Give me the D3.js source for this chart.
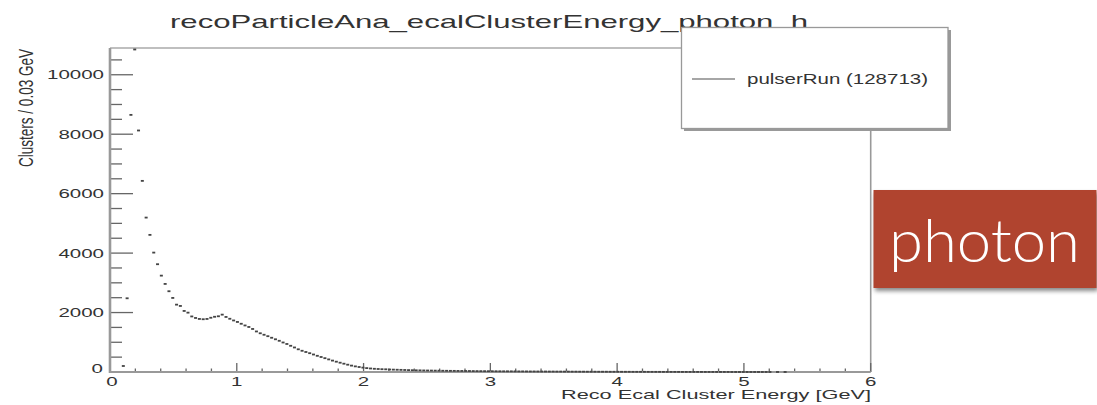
<!DOCTYPE html>
<html>
<head>
<meta charset="utf-8">
<script src="https://cdn.jsdelivr.net/npm/d3@7"></script>
<style>
  body { margin: 0; background: #fff; }
  svg { display: block; }
  text { font-family: "Liberation Sans", Arial, sans-serif; fill: #333; }
</style>
</head>
<body>
<script>
var W = 1097, H = 405;

// histogram, 200 bins of 0.03 GeV from 0 to 6 GeV (counts)
var binWidth = 0.03;
var counts = [
  0, 0, 0, 202, 2480, 8650, 10850, 8125, 6430, 5195,
  4613, 4017, 3626, 3242, 2963, 2717, 2492, 2266, 2222, 2054,
  1997, 1869, 1818, 1785, 1775, 1785, 1825, 1858, 1875, 1930,
  1852, 1791, 1734, 1684, 1623, 1566, 1515, 1448, 1364, 1303,
  1253, 1205, 1152, 1101, 1050, 993, 943, 882, 825, 764,
  714, 673, 633, 589, 545, 505, 465, 424, 384, 347,
  313, 279, 246, 215, 189, 168, 148, 131, 118, 108,
  101, 94, 91, 84, 80, 76, 72, 68, 64, 60,
  57, 55, 52, 50, 48, 46, 44, 42, 41, 39,
  38, 36, 35, 34, 33, 31, 30, 29, 28, 27,
  26, 25, 24, 23, 23, 22, 21, 20, 20, 19,
  18, 18, 17, 16, 16, 15, 15, 14, 14, 13,
  13, 12, 12, 11, 11, 10, 10, 10, 9, 9,
  9, 8, 8, 8, 7, 7, 7, 6, 6, 6,
  6, 5, 5, 5, 5, 4, 4, 4, 4, 4,
  3, 3, 3, 3, 3, 3, 2, 2, 2, 2,
  2, 2, 2, 1, 1, 1, 1, 1, 1, 1,
  1, 1, 1, 1, 0, 1, 0, 1, 0, 0,
  0, 0, 0, 0, 0, 0, 0, 0, 0, 0,
  0, 0, 0, 0, 0, 0, 0, 0, 0, 0
];
var xTickLabels = ["0", "1", "2", "3", "4", "5", "6"];
var yTickLabels = ["0", "2000", "4000", "6000", "8000", "10000"];
var titleText = "recoParticleAna_ecalClusterEnergy_photon_h";
var xTitle = "Reco Ecal Cluster Energy [GeV]";
var yTitle = "Clusters / 0.03 GeV";
var legendLabels = ["pulserRun (128713)"];
var tagText = "photon";

var svg = d3.select("body").append("svg")
  .attr("width", W)
  .attr("height", H);

var x = d3.scaleLinear().domain([0, 6]).range([110, 870.7]);
var y = d3.scaleLinear().domain([0, 10900]).range([372, 48]);

// frame (top + right)
svg.append("line")
  .attr("x1", x(0)).attr("x2", x(6)).attr("y1", y(10900)).attr("y2", y(10900))
  .style("stroke", "#aaa").style("stroke-width", 1.6);
svg.append("line")
  .attr("x1", x(6)).attr("x2", x(6)).attr("y1", y(10900)).attr("y2", y(0))
  .style("stroke", "#999").style("stroke-width", 1.6);

// y axis ticks: major every 2000, minor every 500
d3.range(0, 10901, 500).forEach(function(v){
  var major = v % 2000 == 0;
  svg.append("line")
    .attr("x1", x(0)).attr("x2", x(0) + (major ? 23 : 12))
    .attr("y1", y(v)).attr("y2", y(v))
    .style("stroke", "#666").style("stroke-width", 1.3);
});
yTickLabels.forEach(function(t){
  var v = +t;
  svg.append("text")
    .attr("x", v == 0 ? 103 : 104)
    .attr("y", y(v) + (v == 0 ? 1 : 4.5))
    .attr("text-anchor", "end")
    .attr("textLength", t.length * 11.4)
    .attr("lengthAdjust", "spacingAndGlyphs")
    .style("font-size", "12.5px")
    .text(t);
});

// x axis ticks: major every 1, minor every 0.2
d3.range(0, 31).forEach(function(k){
  var v = k * 0.2;
  var major = k % 5 == 0;
  svg.append("line")
    .attr("x1", x(v)).attr("x2", x(v))
    .attr("y1", y(0)).attr("y2", y(0) - (major ? 9 : 3.5))
    .style("stroke", "#666").style("stroke-width", 1.3);
});
xTickLabels.forEach(function(t){
  var v = +t;
  svg.append("text")
    .attr("x", x(v) + (v == 0 ? 2 : 0))
    .attr("y", 386)
    .attr("text-anchor", "middle")
    .attr("textLength", 11.4)
    .attr("lengthAdjust", "spacingAndGlyphs")
    .style("font-size", "12.5px")
    .text(t);
});

// axis lines
svg.append("line")
  .attr("x1", x(0)).attr("x2", x(0)).attr("y1", y(10900)).attr("y2", y(0) + 1)
  .style("stroke", "#999").style("stroke-width", 2.6);
svg.append("line")
  .attr("x1", x(0) - 1).attr("x2", x(6)).attr("y1", y(0)).attr("y2", y(0))
  .style("stroke", "#999").style("stroke-width", 2.2);

// data markers
var bins = counts.map(function(c, i){ return {e: (i + 0.5) * binWidth, c: c}; })
  .filter(function(d){ return d.c > 0; });
svg.append("g").selectAll("rect")
  .data(bins)
  .enter().append("rect")
  .attr("x", function(d){ return x(d.e) - 1.5; })
  .attr("y", function(d){ return y(d.c) - 0.9; })
  .attr("width", 3)
  .attr("height", 1.8)
  .style("fill", "#444");

// title
svg.append("text")
  .attr("x", 170).attr("y", 28)
  .attr("textLength", 638)
  .attr("lengthAdjust", "spacingAndGlyphs")
  .style("font-size", "18.5px")
  .text(titleText);

// axis titles
svg.append("text")
  .attr("x", 871).attr("y", 399)
  .attr("text-anchor", "end")
  .attr("textLength", 310)
  .attr("lengthAdjust", "spacingAndGlyphs")
  .style("font-size", "13px")
  .text(xTitle);
svg.append("text")
  .attr("transform", "translate(33,49) rotate(-90) scale(1,1.55)")
  .attr("text-anchor", "end")
  .attr("textLength", 118)
  .attr("lengthAdjust", "spacingAndGlyphs")
  .style("font-size", "12.5px")
  .text(yTitle);

// legend
var lg = svg.append("g");
lg.append("rect")
  .attr("x", 684).attr("y", 30).attr("width", 267).attr("height", 101)
  .style("fill", "#999");
lg.append("rect")
  .attr("x", 681.5).attr("y", 27.5).attr("width", 266.5).attr("height", 101)
  .style("fill", "#fff").style("stroke", "#999").style("stroke-width", 1.3);
legendLabels.forEach(function(l, i){
  lg.append("line")
    .attr("x1", 692).attr("x2", 735).attr("y1", 79 + i * 20).attr("y2", 79 + i * 20)
    .style("stroke", "#888").style("stroke-width", 1.4);
  lg.append("text")
    .attr("x", 747).attr("y", 84 + i * 20)
    .attr("textLength", 181)
    .attr("lengthAdjust", "spacingAndGlyphs")
    .style("font-size", "14px")
    .text(l);
});

// photon tag
var defs = svg.append("defs");
var f = defs.append("filter").attr("id", "sh").attr("x", "-10%").attr("y", "-10%")
  .attr("width", "130%").attr("height", "140%");
f.append("feGaussianBlur").attr("stdDeviation", 2);
svg.append("rect")
  .attr("x", 875).attr("y", 193).attr("width", 223).attr("height", 98)
  .style("fill", "#888").attr("filter", "url(#sh)");
svg.append("rect")
  .attr("x", 873.5).attr("y", 190).attr("width", 223).attr("height", 98)
  .style("fill", "#b0442f");
svg.append("text")
  .attr("x", 889).attr("y", 261.5)
  .attr("textLength", 191)
  .attr("lengthAdjust", "spacingAndGlyphs")
  .style("font-family", "Lato, 'Open Sans', sans-serif")
  .style("font-weight", 300)
  .style("font-size", "60px")
  .style("fill", "#fff")
  .text(tagText);
</script>
</body>
</html>
